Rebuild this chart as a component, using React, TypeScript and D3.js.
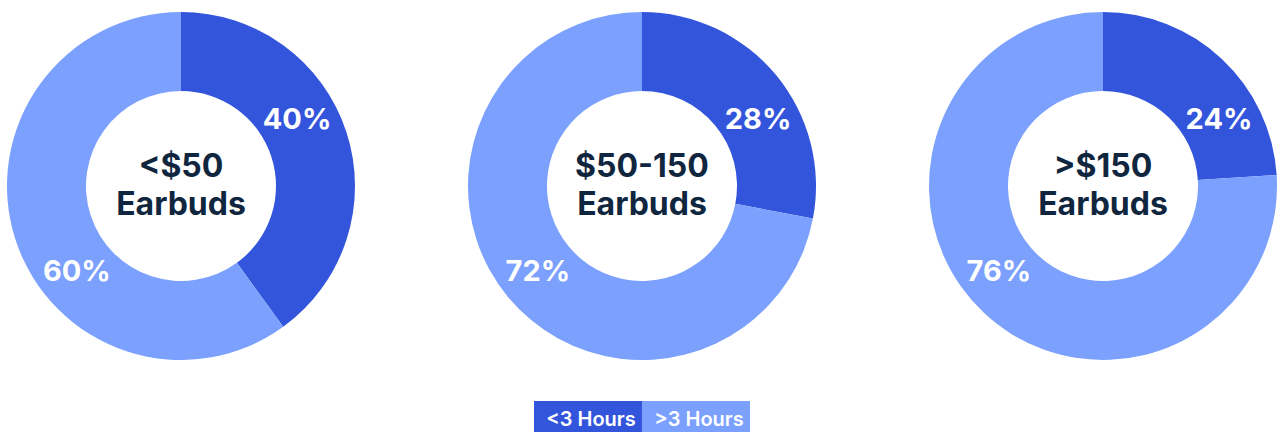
import React, {useEffect, useRef} from "react";
import * as d3 from "d3";

// chart data
const groups = ["<$50", "$50-150", ">$150"];
const subtitle = "Earbuds";
const seriesNames = ["<3 Hours", ">3 Hours"];
const under3 = [40, 28, 24];
const over3 = [60, 72, 76];
const colors = ["#3355DC", "#7BA0FE"];

const width = 1280, height = 432;

export default function App() {
    const ref = useRef<SVGSVGElement>(null);

    useEffect(() => {
        const svg = d3.select(ref.current);
        svg.selectAll("*").remove();

        const font = "Inter, 'Open Sans', sans-serif";
        const outerR = 174, innerR = 95;
        const cy = 186;

        // pies spread across the width
        const x = d3.scalePoint<string>()
            .domain(groups)
            .range([181, 1103]);

        const pie = d3.pie<number>().sort(null).value(d => d);
        const arc = d3.arc<d3.PieArcDatum<number>>()
            .innerRadius(innerR)
            .outerRadius(outerR);

        // label angles (radians) for the two slices, radius for text
        const labelAngles = [60 * Math.PI / 180, 231 * Math.PI / 180];
        const labelR = 134;

        groups.forEach((g, i) => {
            const values = [under3[i], over3[i]];
            const gEl = svg.append("g")
                .attr("transform", `translate(${x(g)},${cy})`);

            gEl.selectAll("path")
                .data(pie(values))
                .join("path")
                .attr("d", arc)
                .attr("fill", (d, j) => colors[j]);

            gEl.selectAll("text.pct")
                .data(values)
                .join("text")
                .attr("class", "pct")
                .attr("transform", (d, j) => {
                    const [px, py] = d3.pointRadial(labelAngles[j], labelR);
                    return `translate(${px},${py})`;
                })
                .attr("text-anchor", "middle")
                .attr("dy", "0.36em")
                .attr("fill", "#ffffff")
                .attr("font-family", font)
                .attr("font-weight", 700)
                .attr("font-size", 29)
                .text(d => d + "%");

            // centre title
            const title = gEl.append("text")
                .attr("text-anchor", "middle")
                .attr("fill", "#10263F")
                .attr("font-family", font)
                .attr("font-weight", 700)
                .attr("font-size", 32);
            title.append("tspan").attr("x", 0).attr("y", -9).text(g);
            title.append("tspan").attr("x", 0).attr("y", 29).text(subtitle);
        });

        // legend
        const legend = svg.append("g").attr("transform", "translate(534,401)");
        const lx = d3.scaleBand<string>()
            .domain(seriesNames)
            .range([0, 216])
            .padding(0);
        legend.selectAll("rect")
            .data(seriesNames)
            .join("rect")
            .attr("x", d => lx(d)!)
            .attr("y", 0)
            .attr("width", lx.bandwidth())
            .attr("height", 31)
            .attr("fill", (d, j) => colors[j]);
        legend.selectAll("text")
            .data(seriesNames)
            .join("text")
            .attr("x", d => lx(d)! + lx.bandwidth() / 2 + 3)
            .attr("y", 25)
            .attr("text-anchor", "middle")
            .attr("fill", "#ffffff")
            .attr("font-family", font)
            .attr("font-weight", 600)
            .attr("font-size", 20)
            .text(d => d);
    }, []);

    return (
        <svg ref={ref} width={width} height={height}
             style={{position: "absolute", left: 0, top: 0, background: "#ffffff"}} />
    );
}
